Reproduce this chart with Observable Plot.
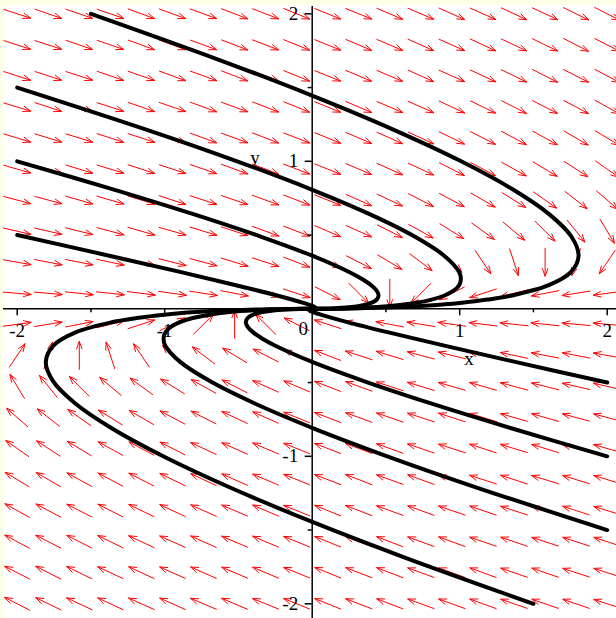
<!DOCTYPE html>
<html><head><meta charset="utf-8">
<script src="https://cdn.jsdelivr.net/npm/d3@7"></script>
<script src="https://cdn.jsdelivr.net/npm/@observablehq/plot@0.6"></script>
<style>
html,body{margin:0;padding:0;background:#ffffe8;width:616px;height:618px;overflow:hidden}
#chart{position:absolute;left:3px;top:5px;}
#chart svg{display:block}
</style></head><body><div id="chart"></div>
<script>
// Grid of direction-field arrows (20 x 20), centres
const gridX = [-2,-1.789,-1.579,-1.368,-1.158,-0.947,-0.737,-0.526,-0.316,-0.105,0.105,0.316,0.526,0.737,0.947,1.158,1.368,1.579,1.789,2];
const gridY = [2,1.789,1.579,1.368,1.158,0.947,0.737,0.526,0.316,0.105,-0.105,-0.316,-0.526,-0.737,-0.947,-1.158,-1.368,-1.579,-1.789,-2];
// Arrow directions, degrees counter-clockwise from +x, row by row (top to bottom)
const row00 = [-18,-19,-19,-19,-20,-20,-20,-21,-21,-22,-22,-22,-23,-23,-24,-24,-25,-25,-26,-27];
const row01 = [-18,-18,-19,-19,-20,-20,-20,-21,-21,-22,-22,-23,-23,-24,-24,-25,-25,-26,-27,-27];
const row02 = [-18,-18,-18,-19,-19,-20,-20,-21,-21,-22,-22,-23,-23,-24,-24,-25,-26,-27,-27,-28];
const row03 = [-17,-18,-18,-18,-19,-19,-20,-20,-21,-22,-22,-23,-23,-24,-25,-26,-27,-27,-28,-29];
const row04 = [-17,-17,-17,-18,-18,-19,-20,-20,-21,-21,-22,-23,-24,-25,-26,-27,-28,-29,-30,-31];
const row05 = [-16,-16,-17,-17,-18,-18,-19,-20,-21,-21,-22,-23,-24,-25,-27,-28,-29,-31,-33,-35];
const row06 = [-15,-15,-16,-16,-17,-18,-18,-19,-20,-21,-22,-24,-25,-27,-28,-30,-32,-35,-38,-41];
const row07 = [-13,-13,-14,-15,-16,-16,-17,-18,-20,-21,-23,-24,-27,-29,-32,-36,-40,-45,-51,-59];
const row08 = [-10,-11,-11,-12,-13,-14,-15,-17,-18,-21,-23,-27,-31,-37,-45,-56,-72,-90,-108,-124];
const row09 = [-5,-5,-6,-6,-7,-8,-9,-11,-14,-18,-27,-45,-90,-135,-153,-162,-166,-169,-171,-172];
const row10 = [8,9,11,14,18,27,45,90,135,153,162,166,169,171,172,173,174,174,175,175];
const row11 = [56,72,90,108,124,135,143,149,153,157,159,162,163,165,166,167,168,169,169,170];
const row12 = [121,129,135,140,144,148,151,153,156,157,159,160,162,163,164,164,165,166,167,167];
const row13 = [139,142,145,148,150,152,153,155,156,158,159,160,161,162,162,163,164,164,165,165];
const row14 = [145,147,149,151,152,153,155,156,157,158,159,159,160,161,162,162,163,163,164,164];
const row15 = [149,150,151,152,153,154,155,156,157,158,159,159,160,160,161,162,162,163,163,163];
const row16 = [151,152,153,153,154,155,156,157,157,158,158,159,160,160,161,161,162,162,162,163];
const row17 = [152,153,153,154,155,156,156,157,157,158,158,159,159,160,160,161,161,162,162,162];
const row18 = [153,153,154,155,155,156,156,157,157,158,158,159,159,160,160,160,161,161,162,162];
const row19 = [153,154,155,155,156,156,157,157,158,158,158,159,159,160,160,160,161,161,161,162];
const fieldAngles = [row00,row01,row02,row03,row04,row05,row06,row07,row08,row09,row10,row11,row12,row13,row14,row15,row16,row17,row18,row19];

// Solution curves, points [x, y]
const curveA = [[0,0],[0.147,0.000625],[0.288,0.0025],[0.551,0.01],[0.789,0.0225],[1.002,0.04],[1.19,0.0625],[1.353,0.09],[1.604,0.16],[1.755,0.25],[1.806,0.36],[1.757,0.49],[1.608,0.64],[1.359,0.81],[1.01,1],[0.561,1.21],[0.012,1.44],[-0.637,1.69],[-1.5,2]];
const curveB = [[0,0],[0.109,0.000625],[0.212,0.0025],[0.399,0.01],[0.561,0.0225],[0.698,0.04],[0.81,0.0625],[0.897,0.09],[0.959,0.1225],[0.996,0.16],[1.008,0.2025],[0.996,0.25],[0.895,0.36],[0.694,0.49],[0.393,0.64],[-0.008,0.81],[-0.509,1],[-1.11,1.21],[-2,1.5]];
const curveC = [[0,0],[0.072,0.000625],[0.1375,0.0025],[0.25,0.01],[0.3375,0.0225],[0.4,0.04],[0.4375,0.0625],[0.45,0.09],[0.4375,0.1225],[0.4,0.16],[0.3375,0.2025],[0.25,0.25],[0,0.36],[-0.35,0.49],[-0.8,0.64],[-1.35,0.81],[-2,1]];
const curveD = [[0,0],[0.0146,0.000625],[0.0229,0.0025],[0.025,0.0056],[0.0207,0.01],[-0.0064,0.0225],[-0.0586,0.04],[-0.238,0.09],[-0.517,0.16],[-0.896,0.25],[-1.376,0.36],[-2,0.5]];
const curveE = [[0,0],[-0.147,-0.000625],[-0.288,-0.0025],[-0.551,-0.01],[-0.789,-0.0225],[-1.002,-0.04],[-1.19,-0.0625],[-1.353,-0.09],[-1.604,-0.16],[-1.755,-0.25],[-1.806,-0.36],[-1.757,-0.49],[-1.608,-0.64],[-1.359,-0.81],[-1.01,-1],[-0.561,-1.21],[-0.012,-1.44],[0.637,-1.69],[1.5,-2]];
const curveF = [[0,0],[-0.109,-0.000625],[-0.212,-0.0025],[-0.399,-0.01],[-0.561,-0.0225],[-0.698,-0.04],[-0.81,-0.0625],[-0.897,-0.09],[-0.959,-0.1225],[-0.996,-0.16],[-1.008,-0.2025],[-0.996,-0.25],[-0.895,-0.36],[-0.694,-0.49],[-0.393,-0.64],[0.008,-0.81],[0.509,-1],[1.11,-1.21],[2,-1.5]];
const curveG = [[0,0],[-0.072,-0.000625],[-0.1375,-0.0025],[-0.25,-0.01],[-0.3375,-0.0225],[-0.4,-0.04],[-0.4375,-0.0625],[-0.45,-0.09],[-0.4375,-0.1225],[-0.4,-0.16],[-0.3375,-0.2025],[-0.25,-0.25],[0,-0.36],[0.35,-0.49],[0.8,-0.64],[1.35,-0.81],[2,-1]];
const curveH = [[0,0],[-0.0146,-0.000625],[-0.0229,-0.0025],[-0.025,-0.0056],[-0.0207,-0.01],[0.0064,-0.0225],[0.0586,-0.04],[0.238,-0.09],[0.517,-0.16],[0.896,-0.25],[1.376,-0.36],[2,-0.5]];
const curves = [curveA,curveB,curveC,curveD,curveE,curveF,curveG,curveH];

// Axes ticks and labels
const majorTicks = [-2,-1,1,2];
const minorTicks = [-1.5,-0.5,0.5,1.5];
const xTickLabels = ["-2","-1","1","2"];
const yTickLabels = ["-2","-1","1","2"];
const originLabel = "0";
const xAxisName = "x";
const yAxisName = "y";

// ---- build mark tables ----
const PX = 147.5;           // pixels per unit (both axes)
const HALF = 14 / PX;       // half arrow length in data units
const field = [];
gridY.forEach((y, j) => gridX.forEach((x, i) => {
  const a = fieldAngles[j][i] * Math.PI / 180;
  field.push({x1: x - HALF*Math.cos(a), y1: y - HALF*Math.sin(a), x2: x + HALF*Math.cos(a), y2: y + HALF*Math.sin(a)});
}));
const curvePts = [];
curves.forEach((c, k) => c.forEach(([x, y]) => curvePts.push({x, y, k})));

const font = "'Liberation Serif', 'Times New Roman', serif";
const chart = Plot.plot({
  width: 613, height: 613,
  marginLeft: 13.7, marginRight: 9.3, marginTop: 8.3, marginBottom: 14.7,
  x: {domain: [-2, 2], axis: null},
  y: {domain: [-2, 2], axis: null},
  style: {background: "white", overflow: "visible", fontFamily: font},
  marks: [
    Plot.arrow(field, {x1: "x1", y1: "y1", x2: "x2", y2: "y2", stroke: "#ff0000", strokeWidth: 1, headLength: 12, headAngle: 40}),
    Plot.ruleY([0], {stroke: "black", strokeWidth: 1.5, insetLeft: -13.7, insetRight: -9.3}),
    Plot.ruleX([0], {stroke: "black", strokeWidth: 1.5, insetTop: -7.3, insetBottom: -14.7}),
    Plot.ruleX(majorTicks, {x: d => d, y1: () => 0, y2: () => -7 / PX, stroke: "black", strokeWidth: 1.5}),
    Plot.ruleX(minorTicks, {x: d => d, y1: () => 0, y2: () => -4 / PX, stroke: "black", strokeWidth: 1.5}),
    Plot.ruleY(majorTicks, {y: d => d, x1: () => 0, x2: () => -7 / PX, stroke: "black", strokeWidth: 1.5}),
    Plot.ruleY(minorTicks, {y: d => d, x1: () => 0, x2: () => -4 / PX, stroke: "black", strokeWidth: 1.5}),
    Plot.text(majorTicks, {x: d => d, y: () => 0, text: (d, i) => xTickLabels[i], dy: 22, fontSize: 19, fill: "black"}),
    Plot.text([originLabel], {x: () => 0, y: () => 0, text: d => d, dx: -9, dy: 20, fontSize: 19, fill: "black"}),
    Plot.text(majorTicks, {x: () => 0, y: d => d, text: (d, i) => yTickLabels[i], dx: -14, textAnchor: "end", fontSize: 19, fill: "black"}),
    Plot.text([xAxisName], {frameAnchor: "top-left", text: d => d, dx: 447, dy: 338, fontSize: 19, fill: "black"}),
    Plot.text([yAxisName], {frameAnchor: "top-left", text: d => d, dx: 233, dy: 137, fontSize: 19, fill: "black"}),
    Plot.line(curvePts, {x: "x", y: "y", z: "k", stroke: "black", strokeWidth: 4, curve: "catmull-rom"})
  ]
});
document.getElementById("chart").appendChild(chart);
</script>
</body></html>
